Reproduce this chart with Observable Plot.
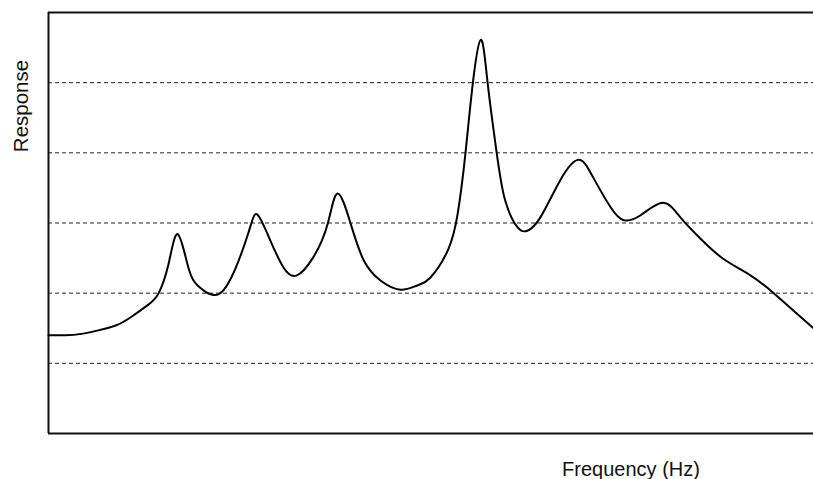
<!DOCTYPE html>
<html>
<head>
<meta charset="utf-8">
<script src="https://cdn.jsdelivr.net/npm/d3@7"></script>
<script src="https://cdn.jsdelivr.net/npm/@observablehq/plot@0.6"></script>
<style>
  html, body { margin: 0; padding: 0; background: #fff; }
  svg { display: block; }
</style>
</head>
<body>
<div id="chart"></div>
<script>
// Frequency (arbitrary units across the axis) and response values
const freq = [0, 2.2, 4.3, 6.5, 8.8, 10.8, 13.1, 14.4, 15.7, 16.9, 18.3, 19.6, 21.3, 23.5, 26.1, 27.3, 29.0, 30.7, 32.4, 34.6, 36.5, 37.8, 39.5, 41.2, 43.4, 46.0, 48.2, 49.9, 52.2, 53.5, 54.5, 55.4, 56.5, 57.4, 58.6, 59.7, 61.3, 62.6, 64.3, 66.9, 69.3, 71.2, 73.5, 75.2, 77.4, 80.3, 82.6, 85.2, 88.2, 91.8, 94.8, 97.4, 100];
const resp = [1.40, 1.40, 1.42, 1.47, 1.54, 1.66, 1.84, 2.00, 2.42, 2.84, 2.36, 2.10, 1.98, 2.14, 2.85, 3.12, 2.75, 2.37, 2.25, 2.51, 2.99, 3.42, 2.99, 2.47, 2.18, 2.05, 2.11, 2.22, 2.61, 3.14, 3.99, 4.93, 5.61, 5.00, 3.99, 3.32, 2.94, 2.89, 3.08, 3.61, 3.90, 3.65, 3.22, 3.04, 3.11, 3.29, 3.08, 2.78, 2.49, 2.25, 2.00, 1.75, 1.50];
const gridLevels = [1, 2, 3, 4, 5];
const yDomain = [0, 6];
const xDomain = [0, 100];
const xLabel = "Frequency (Hz)";
const yLabel = "Response";

const data = freq.map((f, i) => ({f, r: resp[i]}));

const chart = Plot.plot({
  width: 813,
  height: 479,
  marginTop: 12,
  marginBottom: 46,
  marginLeft: 48,
  marginRight: 0,
  style: {fontFamily: "'Liberation Sans', Arial, sans-serif", background: "#fff"},
  x: {domain: xDomain, axis: null},
  y: {domain: yDomain, axis: null},
  marks: [
    Plot.ruleY(gridLevels, {stroke: "#222", strokeWidth: 1, strokeDasharray: "4,3"}),
    Plot.ruleY(yDomain, {stroke: "#111", strokeWidth: 2}),
    Plot.ruleX([xDomain[0]], {stroke: "#111", strokeWidth: 2}),
    Plot.line(data, {x: "f", y: "r", curve: "natural", stroke: "#000", strokeWidth: 2})
  ]
});

const svg = d3.select(chart);
svg.append("text")
  .attr("transform", "translate(28,106) rotate(-90)")
  .attr("text-anchor", "middle")
  .attr("font-size", 20.5)
  .attr("fill", "#111")
  .text(yLabel);
svg.append("text")
  .attr("x", 631)
  .attr("y", 476)
  .attr("text-anchor", "middle")
  .attr("font-size", 20)
  .attr("fill", "#111")
  .text(xLabel);

document.getElementById("chart").append(chart);
</script>
</body>
</html>
